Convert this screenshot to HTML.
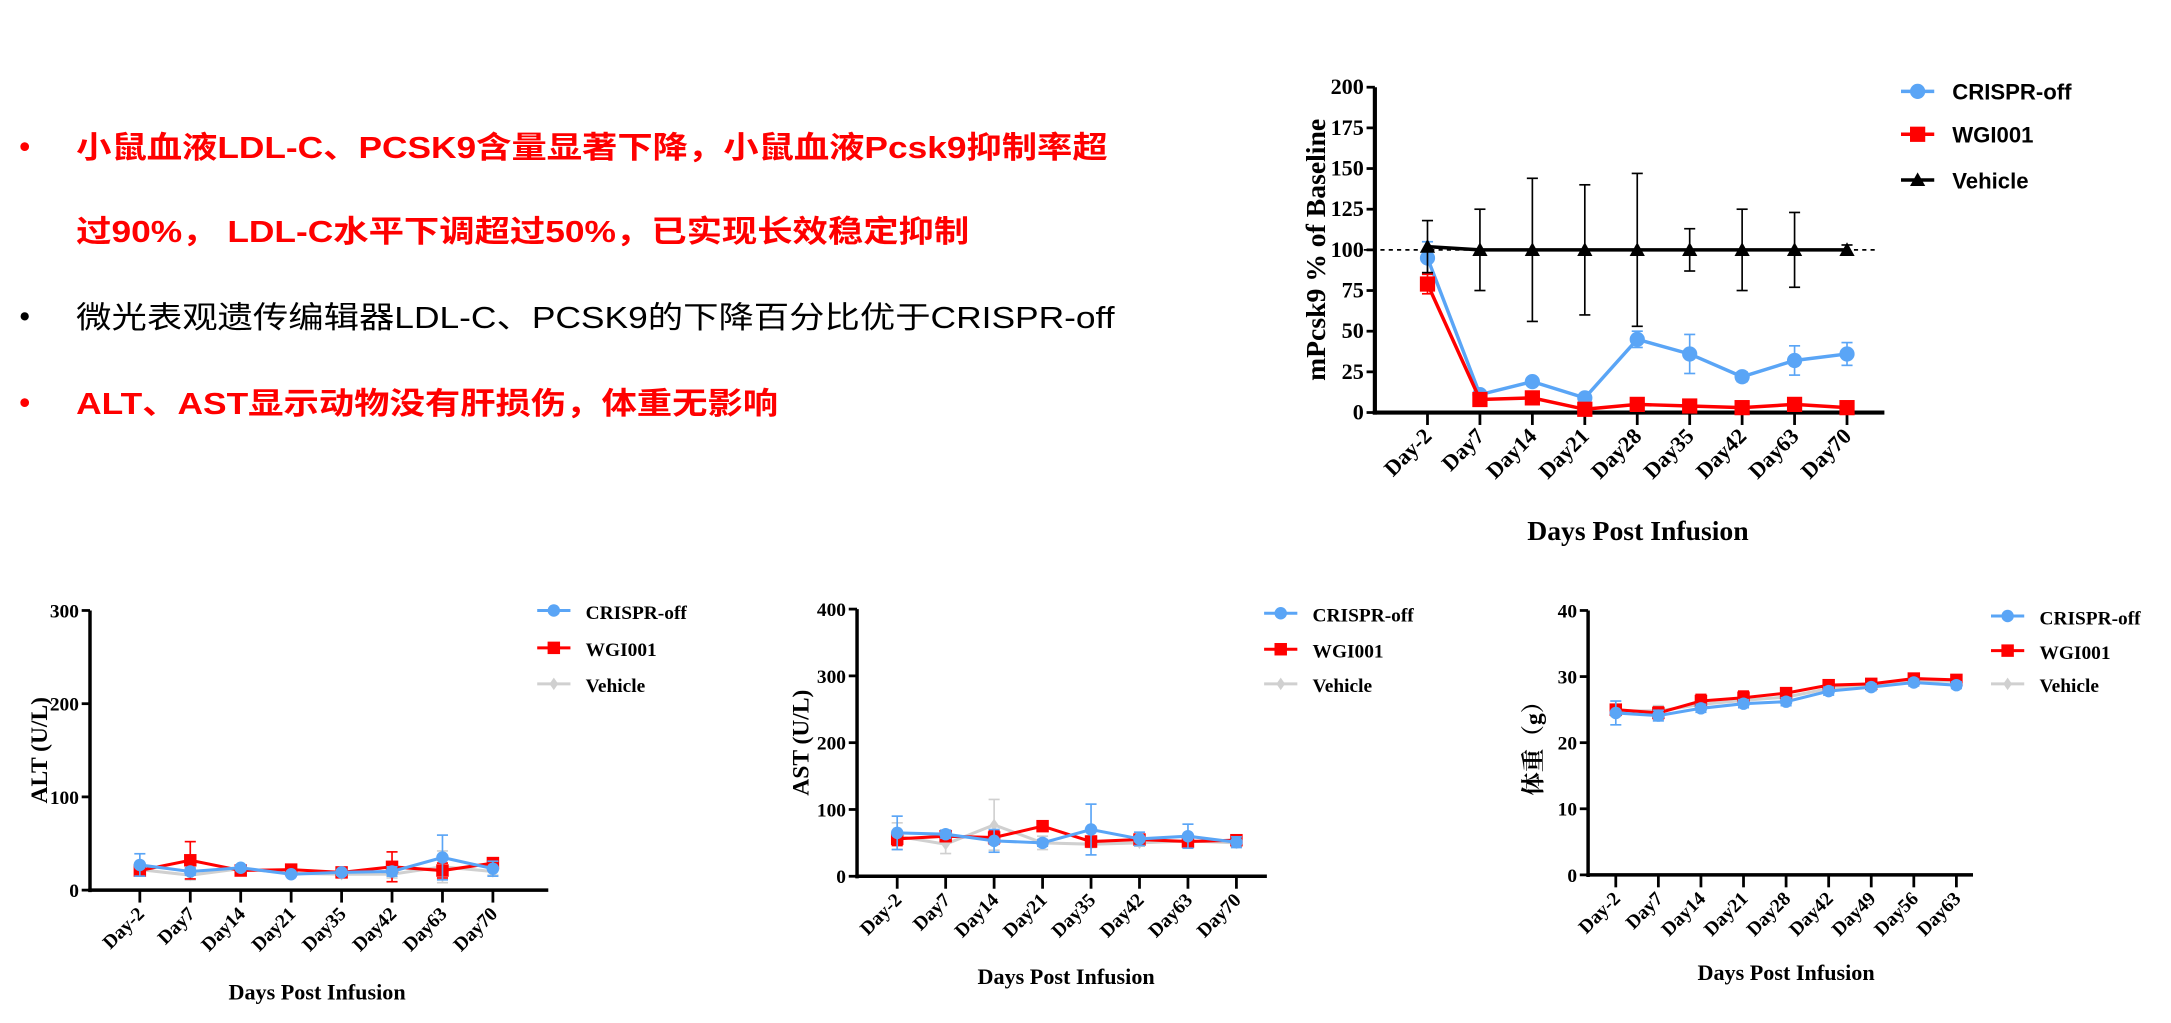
<!DOCTYPE html>
<html><head><meta charset="utf-8">
<style>
html,body{margin:0;padding:0;background:#fff;}
svg{display:block;}
.t{font-family:"Liberation Serif","Noto Serif CJK SC",serif;font-weight:bold;}
.cn{font-family:"Liberation Sans","Noto Sans CJK SC",sans-serif;}
.lb{font-family:"Liberation Sans",sans-serif;font-weight:bold;}
</style></head>
<body>
<svg id="root" xmlns="http://www.w3.org/2000/svg" width="2171" height="1023" viewBox="0 0 1568 739" preserveAspectRatio="none">
  <g class="cn" font-size="22">
    <text x="14" y="113" fill="#ff0000" font-weight="bold">•</text>
    <text x="55" y="114" fill="#ff0000" font-weight="bold" textLength="745" lengthAdjust="spacingAndGlyphs">小鼠血液LDL-C、PCSK9含量显著下降，小鼠血液Pcsk9抑制率超</text>
    <text x="55" y="175" fill="#ff0000" font-weight="bold" textLength="645" lengthAdjust="spacingAndGlyphs">过90%， LDL-C水平下调超过50%，已实现长效稳定抑制</text>
    <text x="14" y="236" fill="#000">•</text>
    <text x="55" y="237" fill="#000" textLength="750" lengthAdjust="spacingAndGlyphs">微光表观遗传编辑器LDL-C、PCSK9的下降百分比优于CRISPR-off</text>
    <text x="14" y="298" fill="#ff0000" font-weight="bold">•</text>
    <text x="55" y="299" fill="#ff0000" font-weight="bold" textLength="507" lengthAdjust="spacingAndGlyphs">ALT、AST显示动物没有肝损伤，体重无影响</text>
  </g>
</svg>
<script>
// ---- Chart 1: mPcsk9 ----
const pcskCats = ["Day-2","Day7","Day14","Day21","Day28","Day35","Day42","Day63","Day70"];
const pcskTicks = [0,25,50,75,100,125,150,175,200];
const pcskCrispr = [95,11,19,9,45,36,22,32,36];
const pcskCrisprErr = [10,2,2,2,5,12,3,9,7];
const pcskWgi = [79,8,9,2,5,4,3,5,3];
const pcskWgiErr = [6,1,2,1,1,1,1,1,1];
const pcskVehicle = [102,100,100,100,100,100,100,100,100];
const pcskVehicleErr = [16,25,44,40,47,13,25,23,3];
// ---- Chart 2: ALT ----
const altCats = ["Day-2","Day7","Day14","Day21","Day35","Day42","Day63","Day70"];
const altTicks = [0,100,200,300];
const altCrispr = [27,20,24,17,19,20,35,23];
const altCrisprErr = [12,4,3,2,3,5,24,8];
const altWgi = [21,32,21,22,19,25,21,29];
const altWgiErr = [5,20,3,3,3,16,8,4];
const altVehicle = [22,16,23,18,17,17,25,20];
const altVehicleErr = [4,5,3,3,2,4,17,4];
// ---- Chart 3: AST ----
const astCats = ["Day-2","Day7","Day14","Day21","Day35","Day42","Day63","Day70"];
const astTicks = [0,100,200,300,400];
const astCrispr = [65,63,53,50,70,56,60,51];
const astCrisprErr = [25,6,17,5,38,10,18,8];
const astWgi = [56,60,58,75,52,55,52,54];
const astWgiErr = [10,8,10,7,8,6,8,6];
const astVehicle = [60,48,77,50,48,50,53,50];
const astVehicleErr = [20,14,38,10,5,5,5,5];
// ---- Chart 4: body weight ----
const bwCats = ["Day-2","Day7","Day14","Day21","Day28","Day42","Day49","Day56","Day63"];
const bwTicks = [0,10,20,30,40];
const bwCrispr = [24.5,24.1,25.2,25.9,26.2,27.8,28.4,29.1,28.7];
const bwCrisprErr = [1.8,0.8,0.6,0.6,0.6,0.6,0.5,0.5,0.5];
const bwWgi = [25.0,24.5,26.3,26.8,27.5,28.7,28.9,29.7,29.5];
const bwWgiErr = [0.7,0.9,1.0,1.0,0.5,0.5,0.4,0.4,0.6];
const bwVehicle = [24.8,24.8,25.8,26.4,26.9,28.2,28.8,29.4,29.3];
const bwVehicleErr = [0.8,0.8,0.6,0.6,0.6,0.5,0.5,0.8,0.8];

const NS = "http://www.w3.org/2000/svg";
const root = document.getElementById('root');
function mk(tag, attrs, parent){
  const e = document.createElementNS(NS, tag);
  for (const k in attrs) e.setAttribute(k, attrs[k]);
  (parent||root).appendChild(e);
  return e;
}
function marker(g, kind, x, y, color, s){
  let m;
  if (kind==='circle') m = mk('circle',{cx:x,cy:y,r:s,fill:color},g);
  else if (kind==='square') m = mk('rect',{x:x-s,y:y-s,width:2*s,height:2*s,fill:color},g);
  else if (kind==='triangle') m = mk('polygon',{points:`${x},${y-s} ${x+s},${y+s*0.8} ${x-s},${y+s*0.8}`,fill:color},g);
  else m = mk('polygon',{points:`${x},${y-s} ${x+s*0.7},${y} ${x},${y+s} ${x-s*0.7},${y}`,fill:color},g);
  return m;
}
function chart(c){
  const g = mk('g',{});
  
  
  const ymax = c.ticks[c.ticks.length-1];
  const yS = v => c.yBot - (v/ymax)*(c.yBot-c.yTop);
  const step = (c.xLast - c.xFirst)/(c.cats.length-1);
  const xS = i => c.xFirst + i*step;
  const ya = mk('line',{x1:c.ax,y1:c.yTop,x2:c.ax,y2:c.yBot+1.5,stroke:'#000','stroke-width':c.aw},g);
  
  
  const xa = mk('line',{x1:c.ax-c.aw/2,y1:c.yBot,x2:c.xEnd,y2:c.yBot,stroke:'#000','stroke-width':c.aw},g);
  
  
  c.ticks.forEach(t=>{
    const y = yS(t);
    mk('line',{x1:c.ax-6,y1:y,x2:c.ax,y2:y,stroke:'#000','stroke-width':2},g);
    const tx = mk('text',{x:c.ax-8,y:y+5,'text-anchor':'end','font-size':c.fs,class:'t'},g);
    tx.textContent = t;
    
    
  });
  c.cats.forEach((cat,i)=>{
    const x = xS(i);
    mk('line',{x1:x,y1:c.yBot,x2:x,y2:c.yBot+9,stroke:'#000','stroke-width':2},g);
    const tx = mk('text',{x:x+4,y:c.yBot+18,'text-anchor':'end','font-size':c.fs,class:'t',transform:`rotate(-45 ${x+4} ${c.yBot+18})`},g);
    tx.textContent = cat;
    
    
  });
  if (c.ref!==undefined){
    const r = mk('line',{x1:c.ax-8,y1:yS(c.ref),x2:c.xEnd-4,y2:yS(c.ref),stroke:'#000','stroke-width':1.2,'stroke-dasharray':'3,3'},g);
    
    
  }
  c.series.forEach(s=>{
    const sg = mk('g',{},g);
    
    
    s.vals.forEach((v,i)=>{
      const x = xS(i), e = s.errs[i];
      mk('line',{x1:x,y1:yS(v+e),x2:x,y2:yS(v-e),stroke:s.color,'stroke-width':1.2},sg);
      mk('line',{x1:x-4,y1:yS(v+e),x2:x+4,y2:yS(v+e),stroke:s.color,'stroke-width':1.2},sg);
      mk('line',{x1:x-4,y1:yS(v-e),x2:x+4,y2:yS(v-e),stroke:s.color,'stroke-width':1.2},sg);
    });
    const pts = s.vals.map((v,i)=>xS(i)+','+yS(v)).join(' ');
    const pl = mk('polyline',{points:pts,fill:'none',stroke:s.color,'stroke-width':c.lw},sg);
    
    
    s.vals.forEach((v,i)=>{
      const m = marker(sg, s.kind, xS(i), yS(v), s.color, c.ms);
      
      
    });
  });
  const lg = mk('g',{},g);
  
  
  c.legendOrder.forEach((s,i)=>{
    const y = c.legY[i];
    const eg = mk('g',{},lg);
    
    
    mk('line',{x1:c.legX-12,y1:y,x2:c.legX+12,y2:y,stroke:s.color,'stroke-width':c.lw},eg);
    marker(eg, s.kind, c.legX, y, s.color, c.ms);
    const tx = mk('text',{x:c.legX+c.legDx,y:y+6,'font-size':c.lfs,class:c.legCls},eg);
    tx.textContent = s.label;
  });
  const yt = mk('text',{x:c.ytX,y:(c.yTop+c.yBot)/2,'text-anchor':'middle','font-size':c.yfs,class:'t',transform:`rotate(-90 ${c.ytX} ${(c.yTop+c.yBot)/2})`},g);
  yt.textContent = c.ytitle;
  
  
  const xt = mk('text',{x:c.xtX,y:c.xtY,'text-anchor':'middle','font-size':c.tfs,class:'t'},g);
  xt.textContent = 'Days Post Infusion';
  
  
}
const BLUE='#5aa5f6', RED='#ff0000', GRAY='#d0d0d0', BLACK='#000';
(function(){
  const cr={label:'CRISPR-off',vals:pcskCrispr,errs:pcskCrisprErr,color:BLUE,kind:'circle'};
  const wg={label:'WGI001',vals:pcskWgi,errs:pcskWgiErr,color:RED,kind:'square'};
  const ve={label:'Vehicle',vals:pcskVehicle,errs:pcskVehicleErr,color:BLACK,kind:'triangle'};
  chart({name:'pcsk9-chart',cats:pcskCats,ticks:pcskTicks,ax:993,yTop:63,yBot:298,xFirst:1031,xLast:1334,xEnd:1361,aw:3,lw:2.5,ms:5.5,fs:16,
    ref:100,series:[cr,wg,ve],legendOrder:[cr,wg,ve],legX:1385,legY:[66,97,130],legDx:25,lfs:16,legCls:'lb',
    ytX:957,ytitle:'mPcsk9 % of Baseline',yfs:20,tfs:20,xtX:1183,xtY:390});
})();
(function(){
  const cr={label:'CRISPR-off',vals:altCrispr,errs:altCrisprErr,color:BLUE,kind:'circle'};
  const wg={label:'WGI001',vals:altWgi,errs:altWgiErr,color:RED,kind:'square'};
  const ve={label:'Vehicle',vals:altVehicle,errs:altVehicleErr,color:GRAY,kind:'diamond'};
  chart({name:'alt-chart',cats:altCats,ticks:altTicks,ax:65,yTop:441,yBot:643,xFirst:101,xLast:356,xEnd:396,aw:2.5,lw:2.2,ms:4.5,fs:14,
    series:[ve,wg,cr],legendOrder:[cr,wg,ve],legX:400,legY:[441,468,494],legDx:23,lfs:14,legCls:'t',
    ytX:34,ytitle:'ALT (U/L)',yfs:17,tfs:16,xtX:229,xtY:722});
})();
(function(){
  const cr={label:'CRISPR-off',vals:astCrispr,errs:astCrisprErr,color:BLUE,kind:'circle'};
  const wg={label:'WGI001',vals:astWgi,errs:astWgiErr,color:RED,kind:'square'};
  const ve={label:'Vehicle',vals:astVehicle,errs:astVehicleErr,color:GRAY,kind:'diamond'};
  chart({name:'ast-chart',cats:astCats,ticks:astTicks,ax:619,yTop:440,yBot:633,xFirst:648,xLast:893,xEnd:915,aw:2.5,lw:2.2,ms:4.5,fs:14,
    series:[ve,wg,cr],legendOrder:[cr,wg,ve],legX:925,legY:[443,469,494],legDx:23,lfs:14,legCls:'t',
    ytX:584,ytitle:'AST (U/L)',yfs:17,tfs:16,xtX:770,xtY:711});
})();
(function(){
  const cr={label:'CRISPR-off',vals:bwCrispr,errs:bwCrisprErr,color:BLUE,kind:'circle'};
  const wg={label:'WGI001',vals:bwWgi,errs:bwWgiErr,color:RED,kind:'square'};
  const ve={label:'Vehicle',vals:bwVehicle,errs:bwVehicleErr,color:GRAY,kind:'diamond'};
  chart({name:'body-weight-chart',cats:bwCats,ticks:bwTicks,ax:1147,yTop:441,yBot:632,xFirst:1167,xLast:1413,xEnd:1425,aw:2.5,lw:2.2,ms:4.5,fs:14,
    series:[ve,wg,cr],legendOrder:[cr,wg,ve],legX:1450,legY:[445,470,494],legDx:23,lfs:14,legCls:'t',
    ytX:1113,ytitle:'体重（g）',yfs:17,tfs:16,xtX:1290,xtY:708});
})();
</script>
</body></html>
